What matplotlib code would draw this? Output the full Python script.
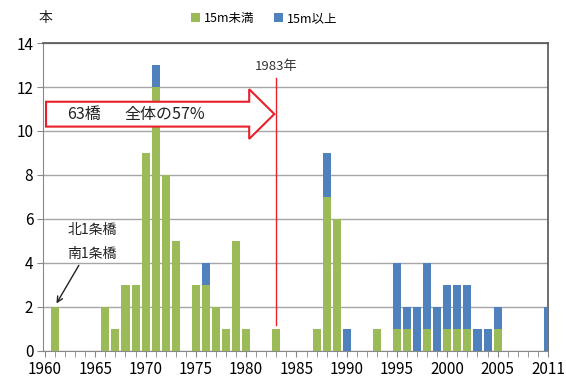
import matplotlib.pyplot as plt
from matplotlib.patches import Polygon

plt.rcParams['font.family'] = ['Noto Sans CJK JP', 'DejaVu Sans']

# 架設年ごとの橋梁数（15m未満 / 15m以上）
years = list(range(1960, 2010)) + [2011]
under15 = [0, 2, 0, 0, 0, 0, 2, 1, 3, 3,
           9, 12, 8, 5, 0, 3, 3, 2, 1, 5,
           1, 0, 0, 1, 0, 0, 0, 1, 7, 6,
           0, 0, 0, 1, 0, 1, 1, 0, 1, 0,
           1, 1, 1, 0, 0, 1, 0, 0, 0, 0,
           0]
over15 = [0, 0, 0, 0, 0, 0, 0, 0, 0, 0,
          0, 1, 0, 0, 0, 0, 1, 0, 0, 0,
          0, 0, 0, 0, 0, 0, 0, 0, 2, 0,
          1, 0, 0, 0, 0, 3, 1, 2, 3, 2,
          2, 2, 2, 1, 1, 1, 0, 0, 0, 0,
          2]
labels = ['15m未満', '15m以上']
green = '#9bbb59'
blue = '#4f81bd'

x = list(range(len(years)))

fig = plt.figure(figsize=(5.66, 3.79), dpi=100)
ax = fig.add_axes([0.076, 0.074, 0.892, 0.8125])

ax.bar(x, under15, width=0.8, color=green, label=labels[0], zorder=3)
ax.bar(x, over15, width=0.8, bottom=under15, color=blue, label=labels[1], zorder=3)

ax.set_xlim(-0.2, 49.8)
ax.set_ylim(0, 14)
ax.set_yticks(range(0, 15, 2))
ax.yaxis.grid(True, color='#a6a6a6', linewidth=1.0, zorder=0)
ax.set_xticks(x, minor=True)
ax.set_xticks(x[::5])
ax.set_xticklabels([str(years[i]) for i in x[::5]])
ax.tick_params(axis='x', which='both', length=4, color='#888888', labelsize=11, pad=3)
ax.tick_params(axis='y', length=4, color='#888888', labelsize=11, pad=3)
for side in ['left', 'bottom']:
    ax.spines[side].set_color('#888888')
for side in ['top', 'right']:
    ax.spines[side].set_color('#555555')
    ax.spines[side].set_linewidth(1.2)

# 1983年の基準線
yr83 = years.index(1983)
ax.plot([yr83, yr83], [1.2, 12.4], color='#e8202a', linewidth=1.0, zorder=4)
ax.text(yr83, 12.65, '1983年', ha='center', va='bottom', fontsize=9.5, color='#333333')

# 1983年までの範囲を示す矢印
arrow = Polygon([(0.1, 10.2), (20.3, 10.2), (20.3, 9.64), (22.8, 10.77),
                 (20.3, 11.9), (20.3, 11.33), (0.1, 11.33)],
                closed=True, facecolor='white', edgecolor='#e8202a',
                linewidth=1.5, zorder=5)
ax.add_patch(arrow)
ax.text(2.2, 10.77, '63橋', ha='left', va='center',
        fontsize=11.5, color='#222222', zorder=6)
ax.text(7.9, 10.77, '全体の57%', ha='left', va='center',
        fontsize=11.5, color='#222222', zorder=6)

# 北1条橋・南1条橋
ax.text(4.7, 5.5, '北1条橋', ha='center', va='center', fontsize=10, color='#222222', zorder=6)
ax.text(4.7, 4.4, '南1条橋', ha='center', va='center', fontsize=10, color='#222222', zorder=6)
ax.annotate('', xy=(1.0, 2.05), xytext=(3.5, 4.0),
            arrowprops=dict(arrowstyle='->', color='#222222', lw=1.0), zorder=6)

fig.text(0.081, 0.952, '本', ha='center', va='center', fontsize=10, color='#222222')
fig.legend(loc='center', bbox_to_anchor=(0.467, 0.952), ncol=2, frameon=False,
           fontsize=9, handlelength=0.7, handleheight=0.7, handletextpad=0.3,
           columnspacing=1.6)

fig.savefig('out.png', dpi=100)
